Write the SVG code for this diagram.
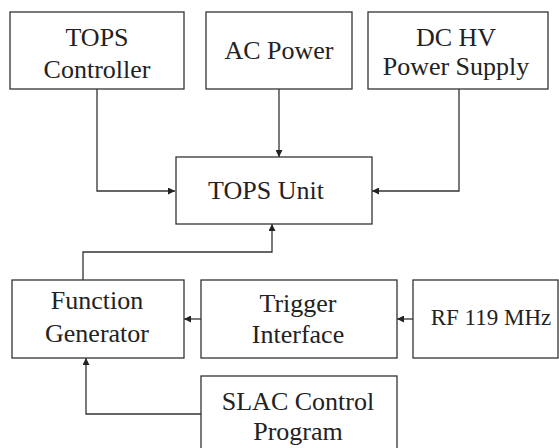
<svg xmlns="http://www.w3.org/2000/svg" width="559" height="448" viewBox="0 0 559 448">
<defs>
<style>
.box{fill:#fff;stroke:#333;stroke-width:1.3}
.t{font-family:'Liberation Serif','Times New Roman',serif;font-size:26px;fill:#222;text-anchor:middle}
.c{fill:none;stroke:#333;stroke-width:1.3}
</style>
<marker id="ah" viewBox="0 0 10 10" refX="10" refY="5" markerWidth="7" markerHeight="7" markerUnits="userSpaceOnUse" orient="auto">
<path d="M0,0 L10,5 L0,10 z" fill="#222"/>
</marker>
</defs>
<rect width="559" height="448" fill="#fff"/>
<g id="connectors">
<path class="c" d="M97,89 V191 H175" marker-end="url(#ah)"/>
<path class="c" d="M279,89 V157" marker-end="url(#ah)"/>
<path class="c" d="M459,89 V191 H372" marker-end="url(#ah)"/>
<path class="c" d="M83,280 V252 H272 V224" marker-end="url(#ah)"/>
<path class="c" d="M201,319 H184" stroke-width="2" marker-end="url(#ah)"/>
<path class="c" d="M413,319 H397" stroke-width="2" marker-end="url(#ah)"/>
<path class="c" d="M201,414 H86 V358" marker-end="url(#ah)"/>
</g>
<g id="tops-controller">
<rect class="box" x="10" y="12" width="174" height="77"/>
<text class="t" x="97" y="46">TOPS</text>
<text class="t" x="97" y="78">Controller</text>
</g>
<g id="ac-power">
<rect class="box" x="206" y="12" width="146" height="77"/>
<text class="t" x="279" y="59">AC Power</text>
</g>
<g id="dc-hv">
<rect class="box" x="368" y="12" width="180" height="77"/>
<text class="t" x="456" y="46">DC HV</text>
<text class="t" x="456" y="75">Power Supply</text>
</g>
<g id="tops-unit">
<rect class="box" x="176" y="157" width="196" height="67"/>
<text class="t" x="266" y="199">TOPS Unit</text>
</g>
<g id="function-generator">
<rect class="box" x="12" y="280" width="172" height="78"/>
<text class="t" x="97" y="309">Function</text>
<text class="t" x="97" y="342">Generator</text>
</g>
<g id="trigger-interface">
<rect class="box" x="201" y="280" width="196" height="78"/>
<text class="t" x="298" y="312">Trigger</text>
<text class="t" x="298" y="343">Interface</text>
</g>
<g id="rf">
<rect class="box" x="413" y="280" width="145" height="78"/>
<text class="t" x="491" y="325" style="font-size:23px">RF 119 MHz</text>
</g>
<g id="slac">
<rect class="box" x="201" y="376" width="196" height="80"/>
<text class="t" x="298" y="410">SLAC Control</text>
<text class="t" x="298" y="440">Program</text>
</g>
</svg>
